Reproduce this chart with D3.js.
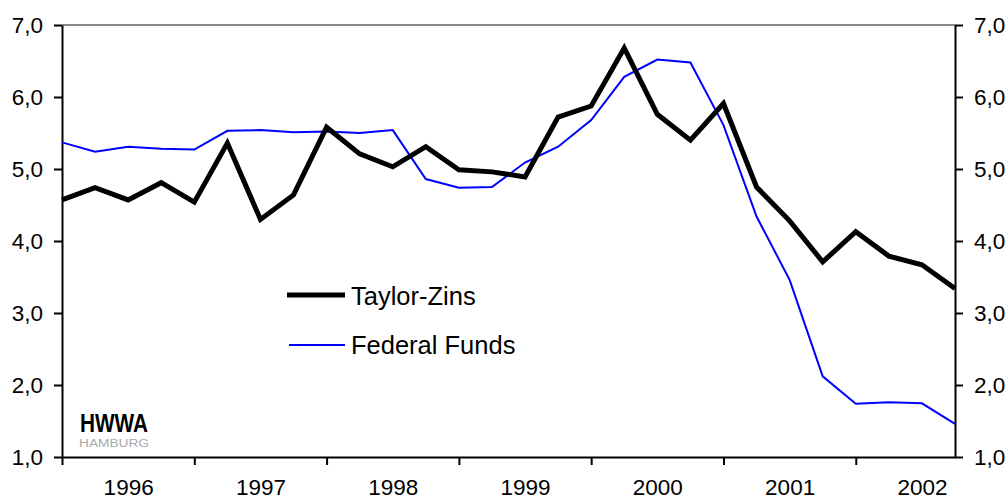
<!DOCTYPE html>
<html>
<head>
<meta charset="utf-8">
<script src="https://cdn.jsdelivr.net/npm/d3@7"></script>
<style>
  body { margin: 0; background: #fff; }
  svg { display: block; font-family: "Liberation Sans", Arial, sans-serif; }
</style>
</head>
<body>
<div class="container"></div>
<script>
// quarterly values, Q1 1996 .. Q4 2002
var years = ['1996', '1997', '1998', '1999', '2000', '2001', '2002'];
var taylorZins = [4.57, 4.74, 4.57, 4.81, 4.54, 5.36, 4.30, 4.64,
    5.58, 5.21, 5.03, 5.31, 4.99, 4.96, 4.89, 5.72,
    5.875, 6.68, 5.76, 5.40, 5.91, 4.75, 4.28, 3.71,
    4.13, 3.79, 3.67, 3.34];
var federalFunds = [5.37, 5.24, 5.31, 5.28, 5.27, 5.53, 5.54, 5.51,
    5.52, 5.50, 5.54, 4.86, 4.74, 4.75, 5.09, 5.31,
    5.68, 6.28, 6.52, 6.48, 5.61, 4.34, 3.46, 2.12,
    1.74, 1.76, 1.745, 1.46];
var yTicks = [1, 2, 3, 4, 5, 6, 7];
var legendNames = ['Taylor-Zins', 'Federal Funds'];

var drawChart = function () {
    var left = 62, right = 955, top = 25, bottom = 457;

    var svg = d3.select('.container')
        .append('svg')
        .attr('width', 1008)
        .attr('height', 500);

    var x = d3.scaleLinear().domain([0, taylorZins.length - 1]).range([left, right]);
    var y = d3.scaleLinear().domain([1, 7]).range([bottom, top]);

    var de = d3.formatLocale({ decimal: ',', thousands: '.', grouping: [3], currency: ['', ' €'] });
    var fmt = de.format('.1f');

    // top line at 7,0
    svg.append('line')
        .attr('x1', left).attr('x2', right)
        .attr('y1', y(7)).attr('y2', y(7))
        .style('stroke', '#888').style('stroke-width', 2);

    var styleAxis = function (g) {
        g.select('.domain').style('stroke', '#000').style('stroke-width', 2);
        g.selectAll('.tick line').style('stroke', '#000').style('stroke-width', 2);
        g.selectAll('text').style('font-size', '22.5px').style('fill', '#000')
            .style('font-family', '"Liberation Sans", Arial, sans-serif');
    };

    svg.append('g')
        .attr('transform', 'translate(' + left + ',0)')
        .call(d3.axisLeft(y).tickValues(yTicks).tickFormat(fmt).tickSize(8).tickPadding(11).tickSizeOuter(0))
        .call(styleAxis);

    svg.append('g')
        .attr('transform', 'translate(' + right + ',0)')
        .call(d3.axisRight(y).tickValues(yTicks).tickFormat(fmt).tickSize(8).tickPadding(11).tickSizeOuter(0))
        .call(styleAxis);

    // year boundary ticks
    var yearStarts = years.map(function (d, i) { return i * 4; });
    svg.append('g')
        .attr('transform', 'translate(0,' + bottom + ')')
        .call(d3.axisBottom(x).tickValues(yearStarts).tickFormat('').tickSize(8).tickSizeOuter(0))
        .call(styleAxis);

    // year labels centred in each year
    svg.append('g')
        .attr('transform', 'translate(0,' + bottom + ')')
        .call(d3.axisBottom(x).tickValues(yearStarts.map(function (d) { return d + 2; }))
            .tickFormat(function (d, i) { return years[i]; }).tickSize(0).tickPadding(22))
        .call(styleAxis)
        .call(function (g) { g.select('.domain').remove(); });

    var line = d3.line()
        .x(function (d, i) { return x(i); })
        .y(function (d) { return y(d); });

    svg.append('path')
        .datum(federalFunds)
        .attr('d', line)
        .style('fill', 'none')
        .style('stroke', '#0000ff')
        .style('stroke-width', 2);

    svg.append('path')
        .datum(taylorZins)
        .attr('d', line)
        .style('fill', 'none')
        .style('stroke', '#000')
        .style('stroke-width', 5)
        .style('stroke-linejoin', 'miter');

    // legend
    var legend = svg.append('g');
    legend.append('line')
        .attr('x1', 287).attr('x2', 345).attr('y1', 295).attr('y2', 295)
        .style('stroke', '#000').style('stroke-width', 5);
    legend.append('text')
        .attr('x', 351).attr('y', 305)
        .style('font-size', '25.5px')
        .text(legendNames[0]);
    legend.append('line')
        .attr('x1', 289).attr('x2', 345).attr('y1', 345).attr('y2', 345)
        .style('stroke', '#0000ff').style('stroke-width', 2);
    legend.append('text')
        .attr('x', 351).attr('y', 354)
        .style('font-size', '25.5px')
        .text(legendNames[1]);

    // HWWA logo
    svg.append('text')
        .attr('x', 80).attr('y', 432)
        .attr('textLength', 68).attr('lengthAdjust', 'spacingAndGlyphs')
        .style('font-size', '25px').style('font-weight', 'bold')
        .text('HWWA');
    svg.append('text')
        .attr('x', 79).attr('y', 447)
        .attr('textLength', 70).attr('lengthAdjust', 'spacingAndGlyphs')
        .style('font-size', '10px').style('fill', '#aaa')
        .text('HAMBURG');
};
window.onload = drawChart;
</script>
</body>
</html>
